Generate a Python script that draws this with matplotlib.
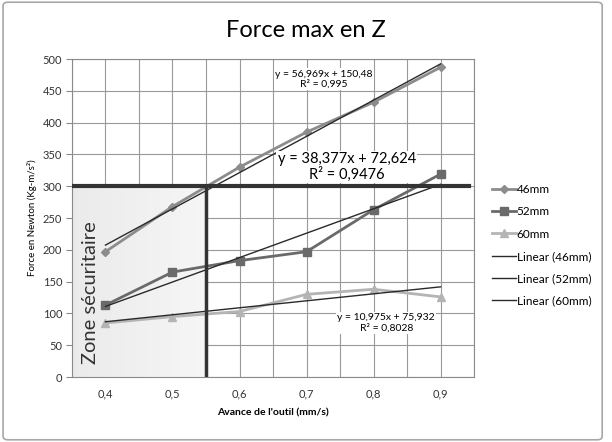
import numpy as np
import matplotlib
matplotlib.use('Agg')
import matplotlib.pyplot as plt
from matplotlib.patches import FancyBboxPatch

plt.rcParams['font.family'] = ['Lato', 'DejaVu Sans']

avance = [0.4, 0.5, 0.6, 0.7, 0.8, 0.9]
f46 = [197, 268, 330, 385, 432, 487]
f52 = [113, 165, 183, 197, 263, 319]
f60 = [85, 95, 103, 130, 138, 126]

# Excel trendlines (x = point index 1..6)
trend46 = (56.969, 150.48)
trend52 = (38.377, 72.624)
trend60 = (10.975, 75.932)

seuil = 300
avance_max = 0.55

fig = plt.figure(figsize=(6.12, 4.42), dpi=100)
fig.patches.append(FancyBboxPatch((0.005, 0.005), 0.979, 0.99, boxstyle='round,pad=0,rounding_size=0.008',
                                  transform=fig.transFigure, fc='none', ec='#a8a8a8', lw=1.2))
ax = fig.add_axes([0.1176, 0.147, 0.657, 0.7195])

# zone securitaire (light gradient)
g = np.linspace(0.92, 0.965, 256)
grad = np.dstack([g, g, g]).reshape(1, -1, 3)
ax.imshow(grad, extent=[0.35, avance_max, 0, seuil], aspect='auto', zorder=1)

idx = np.arange(1, 7)
ax.plot(avance, f46, color='#8c8c8c', marker='D', ms=4, lw=2, label='46mm', zorder=4)
ax.plot(avance, f52, color='#6a6a6a', marker='s', ms=6, lw=2, label='52mm', zorder=4)
ax.plot(avance, f60, color='#b4b4b4', marker='^', ms=6, lw=2, label='60mm', zorder=4)
ax.plot(avance, trend46[0] * idx + trend46[1], color='#2a2a2a', lw=1, label='Linear (46mm)', zorder=5)
ax.plot(avance, trend52[0] * idx + trend52[1], color='#2a2a2a', lw=1, label='Linear (52mm)', zorder=5)
ax.plot(avance, trend60[0] * idx + trend60[1], color='#2a2a2a', lw=1, label='Linear (60mm)', zorder=5)

ax.plot([0.35, 0.943], [seuil, seuil], color='#333333', lw=3, zorder=6)
ax.plot([avance_max, avance_max], [0, seuil], color='#333333', lw=2.5, zorder=6)

ax.set_xlim(0.35, 0.95)
ax.set_ylim(0, 500)
ax.set_xticks(avance)
ax.set_xticklabels(['0,4', '0,5', '0,6', '0,7', '0,8', '0,9'], fontsize=8, color='#333333')
ax.set_xticks(np.arange(0.35, 0.96, 0.05), minor=True)
ax.set_yticks(np.arange(0, 501, 50))
ax.tick_params(axis='y', labelsize=8, length=4, color='#8a8a8a', labelcolor='#333333', pad=3)
ax.tick_params(axis='x', which='both', length=0, pad=8)
ax.grid(True, which='both', color='#999999', lw=0.8, zorder=0)
ax.set_axisbelow(True)
for s in ax.spines.values():
    s.set_color('#8a8a8a')

fig.text(0.5, 0.932, 'Force max en Z', fontsize=17, ha='center', va='center')
ax.set_xlabel("Avance de l'outil (mm/s)", fontsize=7.5, fontweight='bold', labelpad=7)
ax.set_ylabel('Force en Newton (Kg-m/s²)', fontsize=7)

ax.text(0.377, 132, 'Zone sécuritaire', rotation=90, fontsize=14.5, color='#333333',
        ha='center', va='center', zorder=7)

box = dict(fc='white', ec='none', pad=1)
ax.text(0.726, 468, 'y = 56,969x + 150,48\nR² = 0,995', fontsize=7.5, ha='center', va='center',
        linespacing=1.1, bbox=box, zorder=7)
ax.text(0.760, 330, 'y = 38,377x + 72,624\nR² = 0,9476', fontsize=10.5, ha='center', va='center',
        linespacing=1.05, bbox=box, zorder=7)
ax.text(0.819, 85, 'y = 10,975x + 75,932\nR² = 0,8028', fontsize=7.5, ha='center', va='center',
        linespacing=1.1, bbox=box, zorder=7)

ax.legend(loc='upper left', bbox_to_anchor=(1.03, 0.625), frameon=False, fontsize=8.5,
          handlelength=2.0, handletextpad=0.1, labelspacing=0.95, borderpad=0)

fig.savefig('out.png', dpi=100)
